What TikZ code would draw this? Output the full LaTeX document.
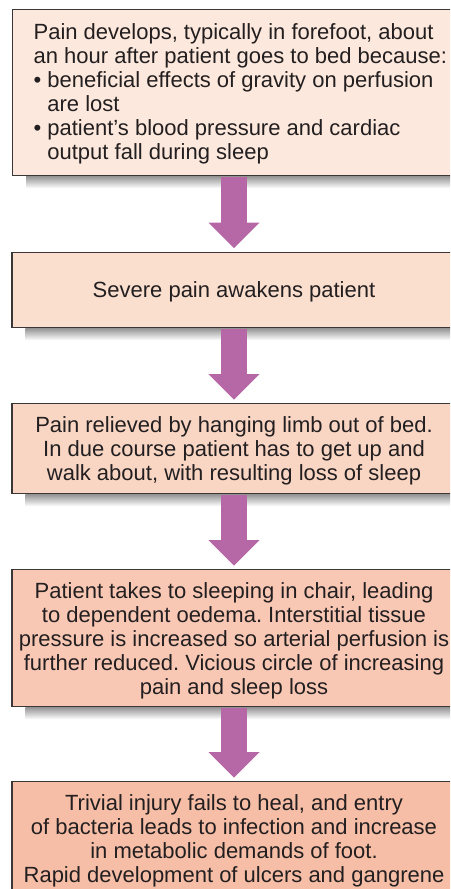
\documentclass[tikz,border=0pt]{standalone}
\usepackage{fontspec}
\setmainfont{Liberation Sans}
\usetikzlibrary{arrows.meta,calc}
\definecolor{stepone}{RGB}{252,232,220}
\definecolor{steptwo}{RGB}{250,222,206}
\definecolor{stepthree}{RGB}{249,214,196}
\definecolor{stepfour}{RGB}{248,200,180}
\definecolor{stepfive}{RGB}{246,190,166}
\definecolor{boxline}{RGB}{60,55,55}
\definecolor{textgrey}{RGB}{35,31,32}
\definecolor{arrowpurple}{RGB}{182,104,166}
\newcommand{\toppad}[1]{\rule{0pt}{#1}}
\newcommand{\botpad}[1]{\rule[-#1]{0pt}{#1}}
\frenchspacing

\begin{document}
\begin{tikzpicture}[x=1pt, y=-1pt,
        box/.style={draw=boxline, line width=1.2pt, inner xsep=0pt, inner ysep=0pt,
            minimum width=444pt, align=center, anchor=north, text=textgrey,
            font=\fontsize{22}{24}\selectfont},
        bigarrow/.style={draw=arrowpurple, line width=26.5pt,
            -{Triangle[width=51pt, length=25.5pt, line width=0pt]},
            shorten <=0.6pt, shorten >=3.5pt}]
        \useasboundingbox (0,0) rectangle (450,889);
        \clip (0,0) rectangle (450,889);

        % Draw boxes
        \node[box, anchor=north west, align=left, inner xsep=21pt, fill=stepone] (b1) at (12,9)
            {\toppad{29.5pt}Pain develops, typically in forefoot, about\\
            an hour after patient goes to bed because:\\
            • beneficial effects of gravity on perfusion\\
            \hphantom{• }are lost\\
            • patient’s blood pressure and cardiac\\
            \hphantom{• }output fall during sleep\botpad{16.5pt}};
        \node[box, fill=steptwo] (b2) at (234,251.5)
            {\toppad{45.5pt}Severe pain awakens patient\botpad{30pt}};
        \node[box, fill=stepthree] (b3) at (234,403)
            {\toppad{29pt}Pain relieved by hanging limb out of bed.\\
            In due course patient has to get up and\\
            walk about, with resulting loss of sleep\botpad{13pt}};
        \node[box, fill=stepfour] (b4) at (234,569)
            {\toppad{29pt}Patient takes to sleeping in chair, leading\\
            to dependent oedema. Interstitial tissue\\
            pressure is increased so arterial perfusion is\\
            further reduced. Vicious circle of increasing\\
            pain and sleep loss\botpad{12pt}};
        \node[box, fill=stepfive] (b5) at (234,781)
            {\toppad{29pt}Trivial injury fails to heal, and entry\\
            of bacteria leads to infection and increase\\
            in metabolic demands of foot.\\
            Rapid development of ulcers and gangrene\botpad{12pt}};

        % Shadows
        \foreach \b in {b1,b2,b3,b4}
            \shade[top color=black!40, bottom color=white]
                ($(\b.south west)+(14,0.6)$) rectangle ($(\b.south east)+(0,12)$);

        % Draw arrows
        \foreach \a/\b in {b1/b2,b2/b3,b3/b4,b4/b5}
            \draw[bigarrow] (\a.south -| \b.north) -- (\b.north);
    \end{tikzpicture}
\end{document}
